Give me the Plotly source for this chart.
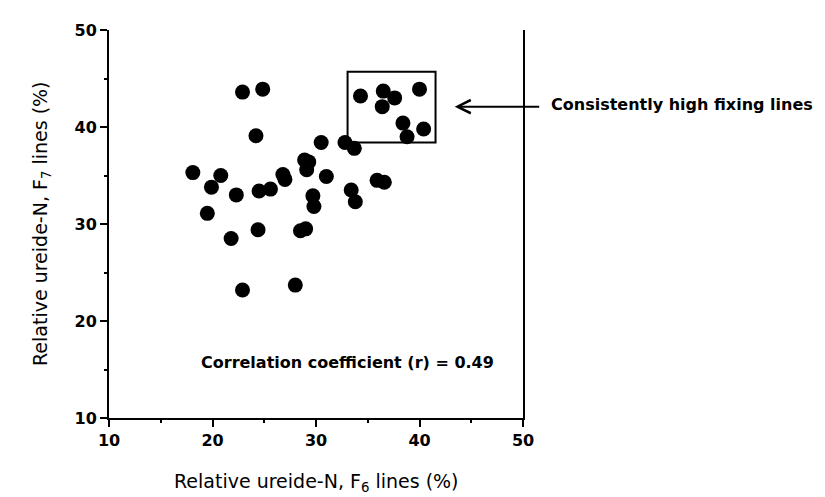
import plotly.graph_objects as go

# Relative ureide-N (%) of F6 lines (x) and F7 lines (y)
f6_values = [18.1, 19.5, 19.9, 20.8, 21.8, 22.3, 22.9, 22.9, 24.2, 24.4,
             24.5, 24.85, 25.6, 26.8, 27.0, 28.0, 28.5, 29.0, 28.9, 29.3,
             29.1, 29.7, 29.8, 30.5, 31.0, 32.8, 33.7, 33.4, 33.8, 35.9,
             36.6, 34.3, 36.5, 37.6, 36.4, 40.0, 38.4, 40.4, 38.8]
f7_values = [35.3, 31.1, 33.8, 35.0, 28.5, 33.0, 43.6, 23.2, 39.1, 29.4,
             33.4, 43.9, 33.6, 35.1, 34.6, 23.7, 29.3, 29.5, 36.6, 36.4,
             35.6, 32.9, 31.8, 38.4, 34.9, 38.4, 37.8, 33.5, 32.3, 34.5,
             34.3, 43.2, 43.7, 43.0, 42.1, 43.9, 40.4, 39.8, 39.0]

tick_vals = [10, 20, 30, 40, 50]
tick_text = ["10", "20", "30", "40", "50"]
minor_ticks = [15, 25, 35, 45]

# highlighted group ("consistently high fixing lines")
box_x = [33.05, 41.55]
box_y = [38.4, 45.7]
note_text = "Consistently high fixing lines"
corr_text = "Correlation coefficient (r) = 0.49"
x_title = "Relative ureide-N, F<sub>6</sub> lines (%)"
y_title = "Relative ureide-N, F<sub>7</sub> lines (%)"

font_family = "DejaVu Sans, Verdana, sans-serif"

fig = go.Figure()
fig.add_trace(go.Scatter(
    x=f6_values, y=f7_values, mode="markers",
    marker=dict(size=15, color="black", line=dict(width=0)),
    showlegend=False, cliponaxis=False,
))

fig.add_shape(type="rect", xref="x", yref="y",
              x0=box_x[0], x1=box_x[1], y0=box_y[0], y1=box_y[1],
              line=dict(color="black", width=2))

# arrow pointing to the box (head inside plot, tail to the right)
fig.add_annotation(x=43.4, y=42.1, xref="x", yref="y",
                   ax=86, ay=0, axref="pixel", ayref="pixel",
                   text="", showarrow=True, arrowhead=5, arrowsize=1.3,
                   arrowwidth=2, arrowcolor="black")
fig.add_annotation(x=(541 - 101) / 414, y=(410 - 97) / 388,
                   xref="paper", yref="paper", text=note_text,
                   showarrow=False, xanchor="left", yanchor="middle",
                   font=dict(family=font_family, size=16, color="black", weight="bold"))

fig.add_annotation(x=33, y=15.7, xref="x", yref="y", text=corr_text,
                   showarrow=False, xanchor="center", yanchor="middle",
                   font=dict(family=font_family, size=16, color="black", weight="bold"))

# axis titles
fig.add_annotation(x=30, y=(410 - 489) / 388, xref="x", yref="paper",
                   text=x_title, showarrow=False,
                   xanchor="center", yanchor="bottom",
                   font=dict(family=font_family, size=19, color="black"))
fig.add_annotation(x=-(101 - 33) / 414, y=0.5, xref="paper", yref="paper",
                   text=y_title, showarrow=False, textangle=-90,
                   xanchor="center", yanchor="middle",
                   font=dict(family=font_family, size=19, color="black"))

axis_common = dict(
    tickvals=tick_vals, ticktext=tick_text, ticks="outside", ticklen=7,
    tickwidth=2, tickcolor="black", showline=True, linecolor="black",
    linewidth=2, showgrid=False, zeroline=False,
    tickfont=dict(family=font_family, size=16, color="black", weight="bold"),
    minor=dict(tickvals=minor_ticks, ticks="outside", ticklen=3,
               tickwidth=2, tickcolor="black", showgrid=False),
)
fig.update_xaxes(range=[10, 50], mirror=False, **axis_common)
fig.update_yaxes(range=[10, 50], mirror=True, **axis_common)

fig.update_layout(
    width=825, height=497,
    margin=dict(l=101, r=310, t=22, b=87),
    plot_bgcolor="white", paper_bgcolor="white",
    font=dict(family=font_family, color="black"),
)

fig.write_html("out.html")
